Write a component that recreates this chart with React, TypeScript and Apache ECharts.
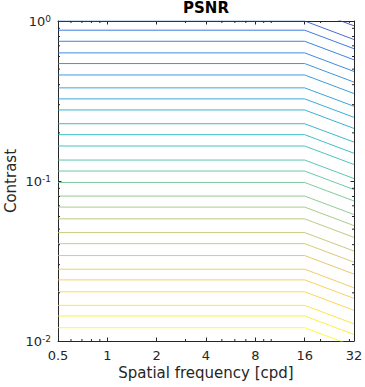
import React, { useEffect, useRef } from 'react';
import * as echarts from 'echarts';

// Axis ticks
const xMajorTicks = [0.5, 1, 2, 4, 8, 16, 32];
const xMinorTicks = [0.6, 0.7, 0.8, 0.9, 3, 5, 6, 7, 9, 10, 20, 30];
const yMinorTicks = [0.02, 0.03, 0.04, 0.05, 0.06, 0.07, 0.08, 0.09, 0.2, 0.3, 0.4, 0.5, 0.6, 0.7, 0.8, 0.9];

// Contour lines: frequency knots and contrast of each iso-PSNR line
const freqKnots = [0.5, 16, 32];
const contrastFlat = [
  1.218, 1.0, 0.876, 0.747, 0.632, 0.542, 0.46, 0.382, 0.326, 0.278, 0.228, 0.1948, 0.1655,
  0.1352, 0.1154, 0.0979, 0.0805, 0.0687, 0.058, 0.0476, 0.0406, 0.0342, 0.0281, 0.0241,
  0.0203, 0.0167, 0.01434, 0.01211,
];
const contrastAt32 = [
  0.933, 0.766, 0.671, 0.572, 0.484, 0.415, 0.352, 0.293, 0.25, 0.213, 0.175, 0.149, 0.1268,
  0.1036, 0.0884, 0.075, 0.0617, 0.0526, 0.0444, 0.0365, 0.0311, 0.0262, 0.0215, 0.01846,
  0.01555, 0.01279, 0.01098, 0.00928,
];

// parula colormap stops
const parula = [
  '#352a87', '#0f5cdd', '#127dd8', '#079ccf', '#15b1b4', '#59bd8c', '#a5be6b', '#e1b952', '#fccd2e', '#f9fb0e',
];

function hexToRgb(h: string) {
  return [parseInt(h.slice(1, 3), 16), parseInt(h.slice(3, 5), 16), parseInt(h.slice(5, 7), 16)];
}
function parulaAt(t: number) {
  t = Math.max(0, Math.min(1, t));
  const p = t * (parula.length - 1);
  const i = Math.min(parula.length - 2, Math.floor(p));
  const f = p - i;
  const a = hexToRgb(parula[i]);
  const b = hexToRgb(parula[i + 1]);
  const c = a.map((v, k) => Math.round(v + (b[k] - v) * f));
  return `rgb(${c[0]},${c[1]},${c[2]})`;
}

const AXIS = '#262626';
const FONT = '"DejaVu Sans", sans-serif';

export default function App() {
  const ref = useRef<HTMLDivElement>(null);
  useEffect(() => {
    if (!ref.current) return;
    const chart = echarts.init(ref.current, undefined, { renderer: 'svg' });

    const lineSeries = contrastFlat.map((c, i) => ({
      type: 'line',
      data: [
        [freqKnots[0], c],
        [freqKnots[1], c],
        [freqKnots[2], contrastAt32[i]],
      ],
      symbol: 'none',
      silent: true,
      clip: true,
      lineStyle: { color: parulaAt(0.07 + (i - 1) * 0.0357), width: 0.9, opacity: 0.9 },
      z: 2,
    }));

    const tickStyle = { stroke: AXIS, lineWidth: 1 };
    const xMinorSeries = {
      type: 'custom',
      data: xMinorTicks.map((v) => [v, 0.1]),
      silent: true,
      clip: false,
      z: 5,
      renderItem: (params: any, api: any) => {
        const cs = params.coordSys;
        const x = api.coord([api.value(0), 0.1])[0];
        const yb = cs.y + cs.height;
        const yt = cs.y;
        return {
          type: 'group',
          children: [
            { type: 'line', shape: { x1: x, y1: yb, x2: x, y2: yb - 2 }, style: tickStyle },
            { type: 'line', shape: { x1: x, y1: yt, x2: x, y2: yt + 2 }, style: tickStyle },
          ],
        };
      },
    };
    const yMinorSeries = {
      type: 'custom',
      data: yMinorTicks.map((v) => [1, v]),
      silent: true,
      clip: false,
      z: 5,
      renderItem: (params: any, api: any) => {
        const cs = params.coordSys;
        const y = api.coord([1, api.value(1)])[1];
        const xl = cs.x;
        const xr = cs.x + cs.width;
        return {
          type: 'group',
          children: [
            { type: 'line', shape: { x1: xl, y1: y, x2: xl + 2, y2: y }, style: tickStyle },
            { type: 'line', shape: { x1: xr, y1: y, x2: xr - 2, y2: y }, style: tickStyle },
          ],
        };
      },
    };

    const baseX = {
      type: 'log',
      logBase: 2,
      min: xMajorTicks[0],
      max: xMajorTicks[xMajorTicks.length - 1],
      splitLine: { show: false },
      axisLine: { show: true, lineStyle: { color: AXIS, width: 1 } },
      axisTick: { show: true, inside: true, length: 3.5, lineStyle: { color: AXIS } },
    };
    const baseY = {
      type: 'log',
      logBase: 10,
      min: 0.01,
      max: 1,
      splitLine: { show: false },
      axisLine: { show: true, lineStyle: { color: AXIS, width: 1 } },
      axisTick: { show: true, inside: true, length: 3.5, lineStyle: { color: AXIS } },
    };

    chart.setOption({
      animation: false,
      backgroundColor: '#ffffff',
      title: {
        text: 'PSNR',
        left: 206,
        top: 0,
        padding: 0,
        textAlign: 'center',
        textStyle: { fontFamily: FONT, fontSize: 15, fontWeight: 'bold', color: '#000000' },
      },
      grid: { left: 58, right: 11, top: 21, bottom: 46, containLabel: false, outerBoundsMode: 'none' },
      xAxis: [
        {
          ...baseX,
          position: 'bottom',
          name: 'Spatial frequency [cpd]',
          nameLocation: 'middle',
          nameGap: 24,
          nameMoveOverlap: false,
          nameTextStyle: { fontFamily: FONT, fontSize: 15, color: AXIS },
          axisLabel: {
            fontFamily: FONT,
            fontSize: 13,
            color: AXIS,
            margin: 8,
            formatter: (v: number) => String(Math.round(v * 100) / 100),
          },
        },
        { ...baseX, position: 'top', axisLabel: { show: false } },
      ],
      yAxis: [
        {
          ...baseY,
          position: 'left',
          name: 'Contrast',
          nameLocation: 'middle',
          nameRotate: 90,
          nameGap: 40,
          nameMoveOverlap: false,
          nameTextStyle: { fontFamily: FONT, fontSize: 15, color: AXIS },
          axisLabel: {
            margin: 7,
            color: AXIS,
            formatter: (v: number) => `{b|10}{s|${Math.round(Math.log10(v))}}`,
            rich: {
              b: { fontFamily: FONT, fontSize: 13, color: AXIS, lineHeight: 14, verticalAlign: 'bottom', padding: [5, 0, 0, 0] },
              s: { fontFamily: FONT, fontSize: 9, color: AXIS, lineHeight: 10, verticalAlign: 'top' },
            },
          },
        },
        { ...baseY, position: 'right', axisLabel: { show: false } },
      ],
      series: [...lineSeries, xMinorSeries, yMinorSeries],
    });
    return () => chart.dispose();
  }, []);
  return (
    <div
      ref={ref}
      style={{ position: 'fixed', left: 0, top: 0, width: 365, height: 387, background: '#fff' }}
    />
  );
}
